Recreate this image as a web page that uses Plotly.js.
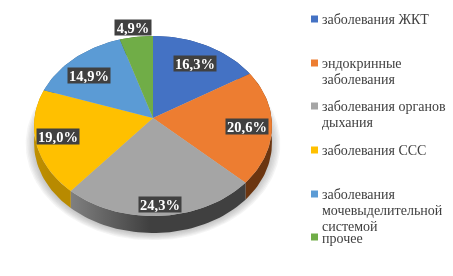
<!DOCTYPE html>
<html><head><meta charset="utf-8">
<script src="https://cdn.plot.ly/plotly-3.0.1.min.js"></script>
<style>html,body{margin:0;padding:0;background:#fff;overflow:hidden}#c{width:453px;height:276px;filter:blur(0.55px)}</style>
</head><body><div id="c"></div>
<script>
// Data
const categories = ["заболевания ЖКТ","эндокринные<br>заболевания","заболевания органов<br>дыхания","заболевания ССС","заболевания<br>мочевыделительной<br>системой","прочее"];
const values = [16.3,20.6,24.3,19.0,14.9,4.9];
const valueLabels = ["16,3%","20,6%","24,3%","19,0%","14,9%","4,9%"];
// Styles
const colors = ["#4472C4","#ED7D31","#A5A5A5","#FFC000","#5B9BD5","#70AD47"];
const wallFrom = ["#2a4578","#6b3510","#808080","#c09000","#37608a","#456b2b"];
const wallTo   = ["#2a4578","#6b3510","#404040","#b88a00","#37608a","#456b2b"];
// Layout: pie projection and label placement
const cx=153, cy=118, k=0.089, A=89.3, B=118.5, depth=17;
const labelX=[195,247,160,58,89,133], labelY=[63,126,204,136,75,27];
const legendTextX=321, legendLineY=[19,63,106.5,150.5,194.5,238.5], legendLineGap=16, legendKeyX=[314.5,314.5,314.5,314.5,314.5,314.5], legendKeyY=[19,63,106,150,194,237];

function proj(deg,f=1){const t=deg*Math.PI/180,X=Math.sin(t)*f,Y=-Math.cos(t)*f,d=1-k*Y;return [cx+B*X/d,cy+A*Y/d];}
function arc(a,b,dy=0){const p=[],n=Math.max(2,Math.ceil((b-a)/2));for(let i=0;i<=n;i++){const q=proj(a+(b-a)*i/n);p.push([q[0],q[1]+dy]);}return p;}
const total=values.reduce((s,v)=>s+v,0);
const traces=[];
// soft shadow under the pie
for(let i=0;i<7;i++){
  const g=1.07-i*0.012, pts=arc(0,360).map(p=>[cx+(p[0]-cx)*g,Math.min(240,(cy+8)+(p[1]-cy-8)*g+18)]);
  traces.push({x:pts.map(p=>p[0]),y:pts.map(p=>p[1]),mode:'lines',line:{width:0},fill:'toself',fillcolor:'rgba(120,120,120,0.07)',hoverinfo:'skip',showlegend:false});
}
let acc=0;const faces=[],walls=[];
values.forEach((v,i)=>{
  const a=acc/total*360,b=(acc+v)/total*360;acc+=v;
  const top=arc(a,b),bot=arc(a,b,depth).reverse();
  const wp=top.concat(bot);wp.push(top[0]);
  walls.push({x:wp.map(p=>p[0]),y:wp.map(p=>p[1]),mode:'lines',line:{width:0},fill:'toself',
    fillgradient:{type:'horizontal',colorscale:[[0,wallFrom[i]],[0.45,wallTo[i]],[1,wallTo[i]]]},hoverinfo:'skip',showlegend:false});
  const fp=[[cx,cy]].concat(top);fp.push([cx,cy]);
  faces.push({x:fp.map(p=>p[0]),y:fp.map(p=>p[1]),mode:'lines',line:{width:0},fill:'toself',fillcolor:colors[i],
    name:categories[i],text:valueLabels[i],hoverinfo:'text',showlegend:false});
});
traces.push(...walls,...faces);
traces.push({x:legendKeyX,y:legendKeyY,mode:'markers',marker:{symbol:'square',size:7,color:colors},hoverinfo:'skip',showlegend:false});
const annotations=[];
valueLabels.forEach((t,i)=>annotations.push({x:labelX[i],y:labelY[i],text:t,showarrow:false,xanchor:'center',yanchor:'middle',
  width:t.length>4?42:36,height:15,align:'center',valign:'middle',bgcolor:'#404040',borderpad:0,
  font:{family:'"Liberation Serif",serif',size:14.5,color:'#fff',weight:700}}));
categories.forEach((t,i)=>t.split('<br>').forEach((line,j)=>annotations.push({x:legendTextX,y:legendLineY[i]+j*legendLineGap,text:line,showarrow:false,xanchor:'left',yanchor:'middle',align:'left',borderpad:0,
  font:{family:'"Liberation Serif",serif',size:14,color:'#404040'}})));
const ax={visible:false,fixedrange:true};
Plotly.newPlot('c',traces,{width:453,height:276,margin:{l:0,r:0,t:0,b:0},paper_bgcolor:'#fff',plot_bgcolor:'#fff',showlegend:false,
  xaxis:{...ax,range:[0,453]},yaxis:{...ax,range:[276,0]},annotations},{staticPlot:true,displayModeBar:false});
</script></body></html>
